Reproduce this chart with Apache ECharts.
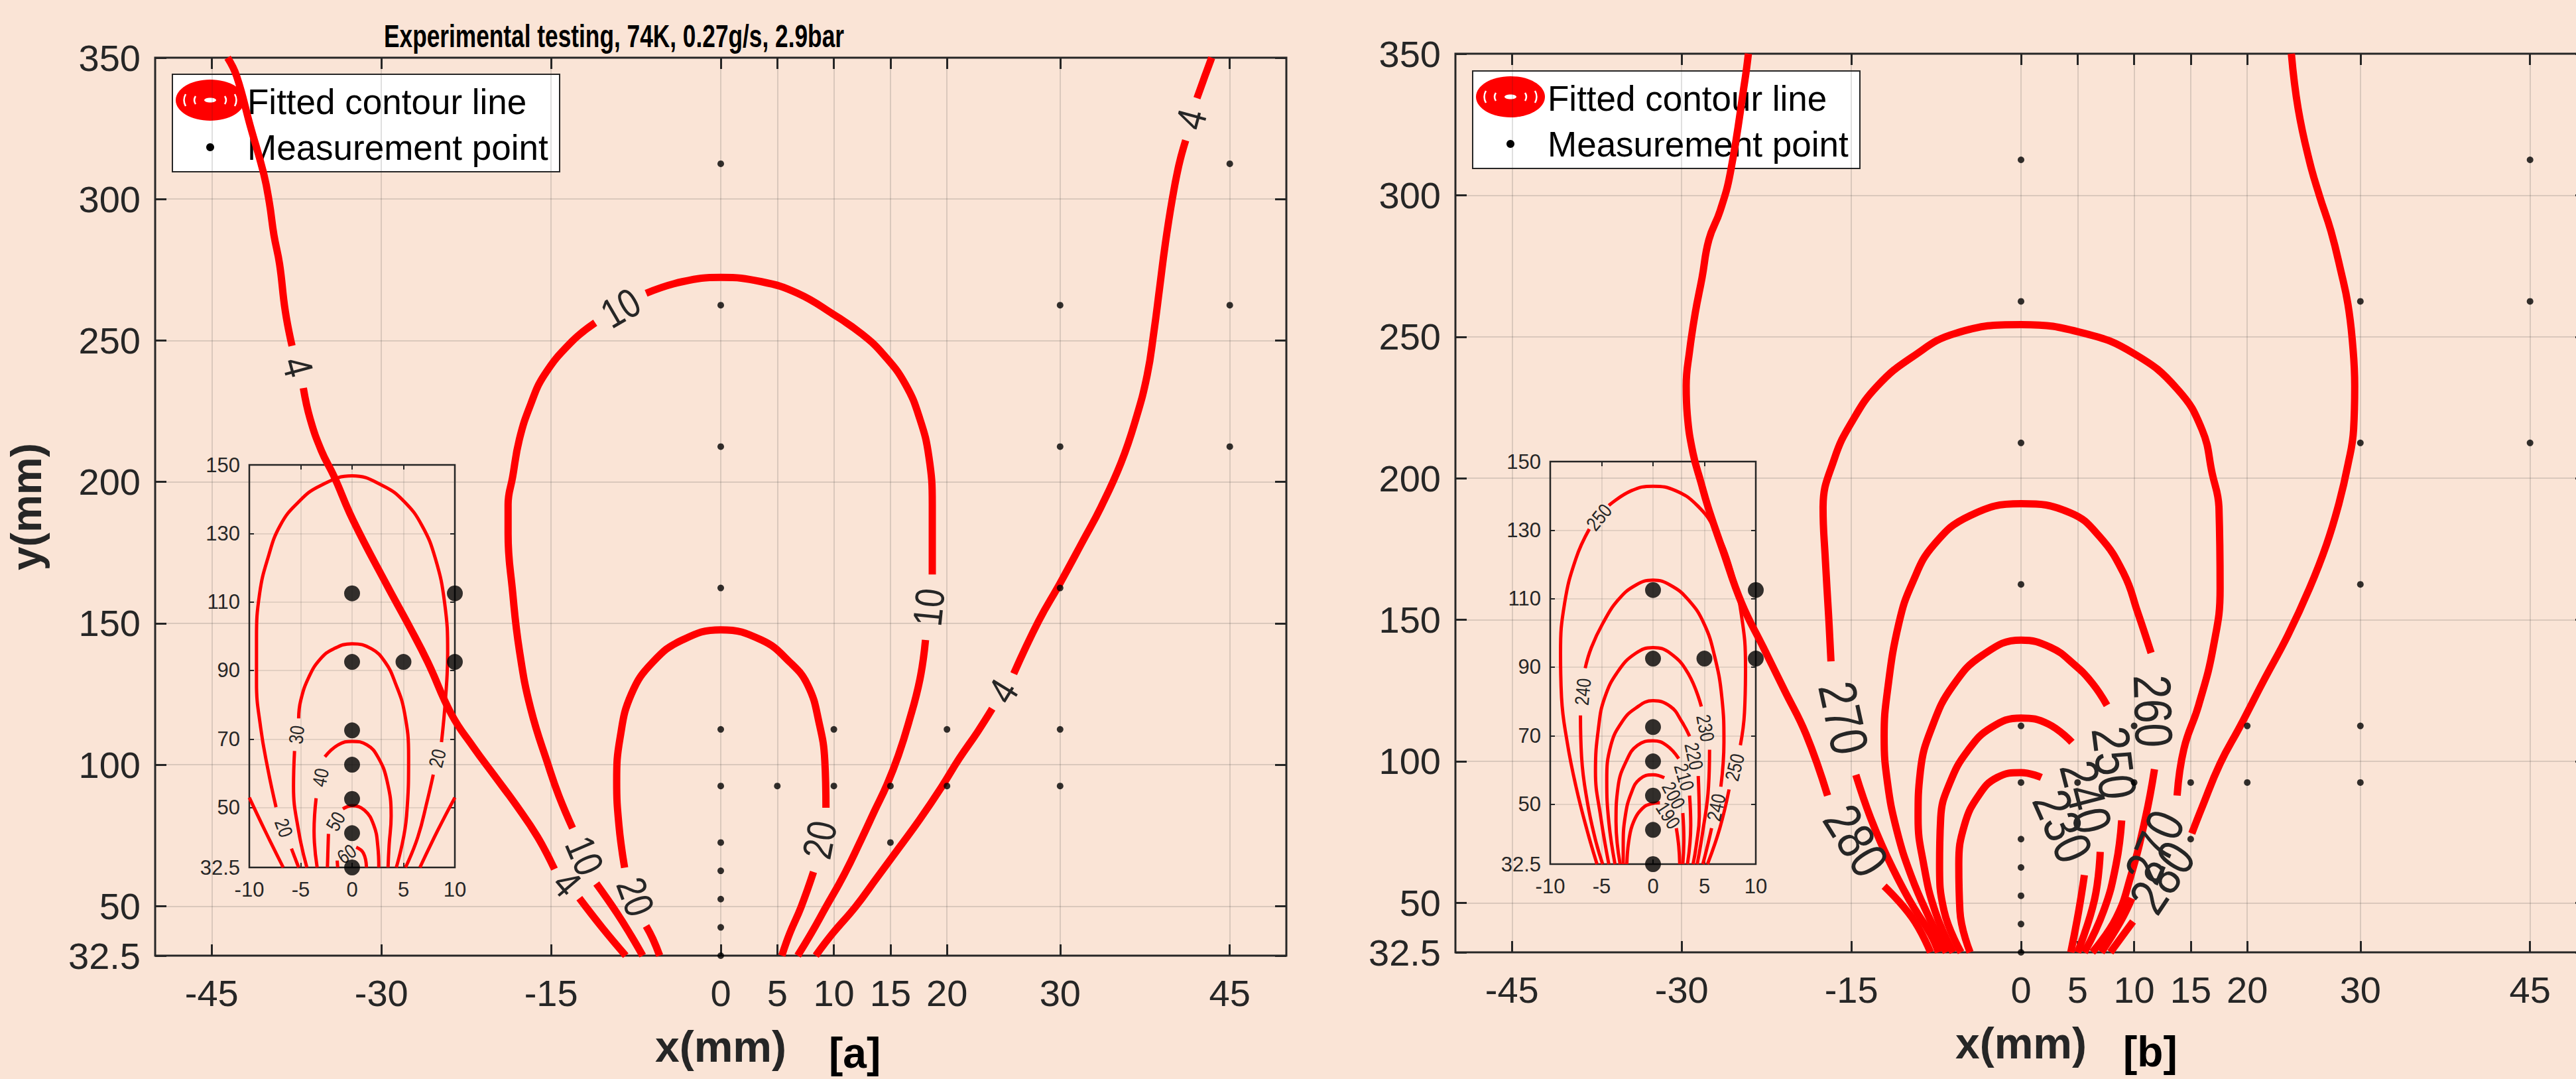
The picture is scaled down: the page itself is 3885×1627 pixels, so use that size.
<!DOCTYPE html>
<html><head><meta charset="utf-8">
<script src="https://cdn.jsdelivr.net/npm/echarts@6/dist/echarts.min.js"></script>
<style>html,body{margin:0;padding:0;background:#FAE4D6;}#c{width:3885px;height:1627px;}</style>
</head><body><div id="c"></div>
<script>
// ---------- tick labels ----------
const xTicks = [-45, -30, -15, 0, 5, 10, 15, 20, 30, 45];
const yTicks = [32.5, 50, 100, 150, 200, 250, 300, 350];
const insetXTicks = [-10, -5, 0, 5, 10];
const insetYTicks = [32.5, 50, 70, 90, 110, 130, 150];

// ---------- measurement points (same grid in both panels) ----------
const measX = [0,0,0,0,0,0,0,0,0,0,0, 5, 10,10, 15,15, 20,20, 30,30,30,30,30, 45,45,45];
const measY = [312.5,262.5,212.5,162.5,112.5,92.5,72.5,62.5,52.5,42.5,32.5, 92.5, 112.5,92.5, 92.5,72.5, 112.5,92.5, 262.5,212.5,162.5,112.5,92.5, 312.5,262.5,212.5];

// ---------- panel [a] main contours (null = gap holding the level label) ----------
const levelsA = [4, 10, 20];
const a_c4_left = [[-43.6,350],[-42.8,343.5],[-41.6,326],[-40.4,308.9],[-39.9,298.6],[-39.5,287.3],[-39.0,277.0],[-38.5,260.5],[-37.9,248.1],
  null,
  [-36.9,233.2],[-36.3,222.3],[-35.3,211.0],[-34.2,202.1],[-32.5,186.4],[-29.5,163.4],[-27.5,148.7],[-25.9,136.3],[-23.8,117.8],[-21.9,106.4],[-20.0,96.1],[-18.1,85.8],[-16.2,74.5],[-14.7,63.1],
  null,
  [-12.5,52.8],[-10.5,42.5],[-8.4,32.5]];
const a_c4_right = [[43.4,350],[42.8,343.5],[42.1,335.7],
  null,
  [41.1,320.8],[40.5,312.0],[39.9,299.6],[39.3,284.2],[38.8,268.7],[38.3,253.3],[37.7,237.8],[36.7,222.3],[35.4,206.9],[33.6,191.0],[32.0,179.0],[30.0,164.2],[28.1,150.8],[25.9,132.2],
  null,
  [24.0,119.8],[22.7,111.6],[21.1,102.3],[19.5,92.0],[17.6,80.7],[15.7,70.3],[13.8,60.0],[11.9,49.7],[9.9,40.4],[8.4,32.5]];
const a_c10 = [[-6.9,32.5],[-7.9,39.4],[-9.2,47.7],[-11.0,58.0],
  null,
  [-13.1,77.6],[-14.3,88.9],[-15.2,99.2],[-16.8,119.8],[-17.8,140.4],[-18.4,161.1],[-18.8,181.7],[-18.8,192.0],[-18.4,201.7],[-17.8,215.1],[-16.8,227.5],[-15.6,237.8],[-13.3,249.1],[-11.1,256.3],
  null,
  [-6.6,266.7],[-3.4,270.8],[0,272.3],[3.6,270.8],[6.8,266.7],[9.9,259.4],[12.5,252.2],[14.4,245.0],[16.3,234.7],[17.6,222.3],[18.4,208.9],[18.7,192.0],[18.7,167.3],
  null,
  [18.1,144.1],[17.6,130.1],[16.6,114.7],[15.7,103.3],[14.7,93.0],[13.6,83.7],[12.4,73.4],[10.9,61.1],[9.3,49.7],[8.0,40.4],[6.8,32.5]];
const a_c20 = [[-5.4,32.5],[-6.0,38.4],[-6.6,43.0],
  null,
  [-8.5,63.6],[-9.0,78.6],[-9.2,94.1],[-8.9,109.5],[-7.9,125.0],[-6.0,136.3],[-3.4,144.1],[0,147.7],[3.6,144.1],[6.1,136.3],[7.7,128.1],[8.7,114.7],[9.2,101.3],[9.3,84.8],
  null,
  [8.2,62.1],[7.1,49.7],[6.1,40.4],[5.4,32.5]];

// ---------- panel [a] inset contours ----------
const levelsAi = [10, 20, 30, 40, 50, 60];
const ai_c10_left = [[-10,52.9],[-8.45,43.1],[-6.7,32.5]];
const ai_c10_right = [[10,52.9],[8.3,43.1],[6.6,32.5]];
const ai_c20 = [[-5.2,32.5],[-5.9,38.0],
  null,
  [-7.4,50.1],[-8.2,61.3],[-8.9,73.4],[-9.3,86.4],[-9.3,99.4],[-9.0,112.4],[-8.2,122.7],[-7.0,132.3],[-5.2,139.2],[-3.1,143.9],[0,146.8],[3.0,143.9],[5.1,139.2],[6.8,132.3],[8.1,122.7],[9.0,109.8],[9.3,95.1],[9.1,82.1],[8.7,69.1],
  null,
  [7.9,59.6],[7.3,51.8],[6.4,41.4],[5.2,32.5]];
const ai_c30 = [[-4.4,32.5],[-5.2,43.1],[-5.7,56.1],[-5.6,66.5],
  null,
  [-5.2,76.0],[-5.0,81.2],[-4.2,88.1],[-3.1,93.3],[-1.8,96.3],[0,97.8],[1.9,96.3],[3.2,92.5],[4.2,86.4],[5.1,77.7],[5.5,64.8],[5.3,47.5],[4.3,32.5]];
const ai_c40 = [[-3.4,32.5],[-3.7,43.1],[-3.5,52.7],
  null,
  [-2.65,64.8],[-1.35,68.3],[0,69.3],[1.44,68.3],[2.5,64.8],[3.4,57.8],[3.8,47.5],[3.6,38.8],[3.5,32.5]];
const ai_c50 = [[-2.4,32.5],[-2.3,42.3],
  null,
  [-0.9,49.6],[0,50.5],[1.2,49.2],[2.1,44.9],[2.5,38.8],[2.6,32.5]];
const ai_c60 = [[-1.4,32.5],[-1.45,34.5],
  null,
  [0.4,38.4],[1.1,36.7],[1.4,32.5]];

// ---------- panel [b] main contours ----------
const levelsB = [230, 240, 250, 260, 270, 280];
const b_c280_left = [[-24.1,350],[-24.4,340.9],[-25.7,307.9],[-26.6,294.5],[-27.6,284.2],[-28.2,270.8],[-28.8,258.4],[-29.3,245.0],[-29.6,232.6],[-29.5,222.3],[-29.0,208.9],[-28.3,198.6],[-27.6,189.0],[-26.4,175.0],[-24.7,155.9],[-22.8,140.4],[-20.9,125.0],[-19.0,109.5],[-17.1,87.9],
  null,
  [-12.1,55.9],[-9.6,44.6],[-8.0,32.5]];
const b_c280_right = [[23.9,350],[24.5,330.6],[25.5,312.0],[26.4,299.6],[27.4,287.3],[28.3,272.8],[28.9,261.5],[29.3,248.1],[29.5,232.6],[29.4,217.2],[28.9,204.8],[28.1,191.0],[27.0,176.5],[25.5,161.1],[23.6,144.6],[21.4,128.1],[19.4,112.6],[17.6,99.2],[16.0,83.7],[15.1,74.5],
  null,
  [9.9,43.4],[7.9,32.5]];
const b_c270 = [[-7.3,32.5],[-8.0,38.9],[-9.9,51.2],[-11.8,66.0],[-13.3,80.0],[-14.6,95.2],
  null,
  [-16.8,135.3],[-17.0,150.8],[-17.3,171.4],[-17.5,189.5],[-16.5,206.9],[-14.9,220.3],[-12.7,232.6],[-9.6,242.9],[-5.8,251.2],[0,254.3],[5.6,251.2],[10.0,244.0],[13.8,231.6],[16.0,217.2],[16.9,201.7],[17.5,189.5],[17.6,161.1],[17.0,140.4],[15.7,119.8],[14.4,104.4],[13.8,87.9],
  null,
  [9.8,51.6],[8.8,43.4],[7.1,32.5]];
const b_c260 = [[-6.6,32.5],[-8.1,44.6],[-9.7,59.4],[-11.0,75.9],[-11.8,92.3],[-12.1,108.7],[-11.8,125.1],[-10.8,148.7],[-9.6,163.1],[-7.7,176.5],[-4.5,186.8],[0,191.0],[4.3,187.9],[6.9,179.6],[9.1,166.2],[10.3,152.8],[11.5,138.3],
  null,
  [11.8,97.2],[11.0,80.0],[9.7,59.4],[8.4,44.6],[6.3,32.5]];
const b_c250 = [[-6.0,32.5],[-7.6,47.1],[-8.6,63.5],[-9.1,80.0],[-8.9,96.4],[-7.8,112.8],[-6.0,126.8],[-3.4,137.5],[0,142.8],[2.6,140.3],[4.7,134.2],[6.3,127.6],[7.6,119.8],
  null,
  [8.9,79.1],[8.4,63.5],[7.3,47.1],[5.6,32.5]];
const b_c240 = [[-5.3,32.5],[-6.8,47.1],[-7.2,63.5],[-7.1,80.0],[-6.3,92.3],[-4.7,103.8],[-2.6,112.0],[0,115.3],[2.4,113.2],[4.5,106.7],
  null,
  [7.0,68.0],[6.5,51.2],[5.0,32.5]];
const b_c230 = [[-4.5,32.5],[-5.4,47.1],[-5.5,63.5],[-5.0,77.5],[-3.7,88.2],[-2.1,94.3],[0,96.0],[1.8,94.3],
  null,
  [5.6,59.8],[5.1,47.1],[4.4,32.5]];

// ---------- panel [b] inset contours ----------
const levelsBi = [190, 200, 210, 220, 230, 240, 250];
const bi_c250 = [[-5.45,32.5],[-6.4,42.2],[-7.5,55.2],[-8.35,68.1],[-8.9,81.1],[-9.0,94.0],[-8.6,108.7],[-7.5,121.7],[-6.2,130.3],
  null,
  [-4.3,137.2],[-2.1,141.5],[0,142.8],[2.2,141.5],[4.3,137.2],[6.0,130.3],[7.5,119.9],[8.6,105.2],[9.0,89.7],[8.9,76.7],[8.5,67.2],
  null,
  [7.4,54.3],[6.5,43.0],[5.3,32.5]];
const bi_c240 = [[-4.9,32.5],[-5.6,39.6],[-6.4,50.8],[-6.95,63.8],[-7.06,75.9],
  null,
  [-6.6,89.7],[-6.0,95.7],[-4.9,102.7],[-3.4,109.6],[-1.7,113.9],[0,115.4],[1.7,113.9],[3.45,109.6],[4.96,102.7],[6.0,93.1],[6.7,81.1],[6.9,68.1],[6.6,55.1],
  null,
  [5.7,43.0],[5.3,37.8],[4.85,32.5]];
const bi_c230 = [[-4.3,32.5],[-5.1,46.5],[-5.6,59.5],[-5.3,72.4],[-4.7,81.1],[-3.4,88.8],[-1.7,94.0],[0,95.7],[1.7,94.0],[3.45,88.0],[4.7,78.5],
  null,
  [5.5,65.9],[5.4,55.1],[4.85,42.2],[4.3,32.5]];
const bi_c220 = [[-3.7,32.5],[-4.3,44.8],[-4.5,56.9],[-4.1,67.2],[-3.0,74.1],[-1.7,78.0],[0,80.2],[1.7,78.5],[2.8,74.1],[3.56,69.8],
  null,
  [4.4,58.2],[4.5,46.5],[4.2,37.8],[3.9,32.5]];
const bi_c210 = [[-3.2,32.5],[-3.6,44.8],[-3.4,55.1],[-2.55,62.9],[-1.5,67.2],[0,68.5],[1.3,67.2],[2.5,63.3],
  null,
  [3.56,52.5],[3.67,43.9],[3.35,32.5]];
const bi_c200 = [[-2.9,32.5],[-2.9,37.8],[-2.7,46.5],[-2.1,53.4],[-1.3,57.3],[0,58.6],[1.1,57.7],
  null,
  [2.9,47.4],[3.0,39.6],[2.9,32.5]];
const bi_c190 = [[-2.55,32.5],[-2.34,39.6],[-1.9,44.8],[-1.05,48.7],[-0.2,50.1],[0.67,50.4],
  null,
  [2.27,43.0],[2.5,37.8],[2.6,32.5]];

// ---------- contour tables (line, level, labelled) ----------
const contoursA = [[a_c4_left, levelsA[0]], [a_c4_right, levelsA[0]], [a_c10, levelsA[1]], [a_c20, levelsA[2]]];
const contoursAi = [[ai_c10_left, levelsAi[0], false], [ai_c10_right, levelsAi[0], false], [ai_c20, levelsAi[1]], [ai_c30, levelsAi[2]], [ai_c40, levelsAi[3]], [ai_c50, levelsAi[4]], [ai_c60, levelsAi[5]]];
const contoursB = [[b_c280_left, levelsB[5]], [b_c280_right, levelsB[5]], [b_c270, levelsB[4]], [b_c260, levelsB[3]], [b_c250, levelsB[2]], [b_c240, levelsB[1]], [b_c230, levelsB[0]]];
const contoursBi = [[bi_c250, levelsBi[6]], [bi_c240, levelsBi[5]], [bi_c230, levelsBi[4]], [bi_c220, levelsBi[3]], [bi_c210, levelsBi[2]], [bi_c200, levelsBi[1]], [bi_c190, levelsBi[0]]];

// ---------- layout / style ----------
const FONT = '"Liberation Sans", Arial, Helvetica, sans-serif';
const INK = '#262626';
const RED = '#FF0000';
const GRIDC = 'rgba(38,38,38,0.15)';
const NARROW_SCALE = 0.82;
const G_LM = {left: 234, top: 87, width: 1706, height: 1354};
const G_RM = {left: 2195, top: 81, width: 1706, height: 1355};
const G_LI = {left: 376, top: 701, width: 310, height: 607};
const G_RI = {left: 2338, top: 696, width: 310, height: 607};

const chart = echarts.init(document.getElementById('c'), null, {renderer: 'svg'});

function gridOf(g, bw) {
  return Object.assign({show: true, borderColor: INK, borderWidth: bw, backgroundColor: 'transparent', containLabel: false, outerBoundsMode: 'none'}, g);
}

function xAx(gi, pos, main, withLabel, nameText) {
  const ticks = main ? xTicks : insetXTicks;
  const ax = {
    gridIndex: gi, type: 'value', position: pos,
    min: main ? -50 : -10, max: main ? 50 : 10,
    axisLine: {show: false, onZero: false},
    axisTick: {show: true, inside: true, length: main ? 17 : 7, lineStyle: {color: INK, width: main ? 3 : 2}, customValues: ticks},
    axisLabel: {show: withLabel, customValues: ticks, margin: main ? 28 : 18, fontSize: main ? 56 : 31, color: INK, fontFamily: FONT, showMinLabel: true, showMaxLabel: true, hideOverlap: false},
    splitLine: {show: withLabel, lineStyle: {color: GRIDC, width: main ? 2 : 1.5}},
    nameMoveOverlap: false
  };
  if (!main) ax.interval = 5;
  if (nameText) {
    ax.name = nameText; ax.nameLocation = 'middle'; ax.nameGap = 104;
    ax.nameTextStyle = {fontSize: 66, fontWeight: 'bold', color: INK, fontFamily: FONT};
  }
  return ax;
}
function yAx(gi, pos, main, withLabel, nameText) {
  const ticks = main ? yTicks : insetYTicks;
  const ax = {
    gridIndex: gi, type: 'value', position: pos,
    min: 32.5, max: main ? 350 : 150,
    axisLine: {show: false, onZero: false},
    axisTick: {show: true, inside: true, length: main ? 17 : 7, lineStyle: {color: INK, width: main ? 3 : 2}, customValues: ticks},
    axisLabel: {show: withLabel, customValues: ticks, margin: main ? 22 : 14, fontSize: main ? 56 : 31, color: INK, fontFamily: FONT, showMinLabel: true, showMaxLabel: true, hideOverlap: false},
    splitLine: {show: withLabel, lineStyle: {color: GRIDC, width: main ? 2 : 1.5}},
    nameMoveOverlap: false
  };
  if (nameText) {
    ax.name = nameText; ax.nameLocation = 'middle'; ax.nameGap = 162; ax.nameRotate = 90;
    ax.nameTextStyle = {fontSize: 64, fontWeight: 'bold', color: INK, fontFamily: FONT};
  }
  return ax;
}

const series = [];
function addContours(list, xi, yi, lw, fs, kx, ky, z) {
  const labels = [];
  const pushSeg = seg => {
    if (seg.length < 2) return;
    series.push({type: 'line', name: 'Fitted contour line', xAxisIndex: xi, yAxisIndex: yi, data: seg,
      smooth: 0.45, symbol: 'none', silent: true, z: z, animation: false,
      lineStyle: {color: RED, width: lw, cap: 'butt', join: 'round'}});
  };
  list.forEach(([pts, level, labelled]) => {
    let seg = [];
    pts.forEach((p, i) => {
      if (p === null) {
        pushSeg(seg); seg = [];
        if (labelled !== false) {
          const a = pts[i - 1], b = pts[i + 1];
          let ang = Math.atan2((b[1] - a[1]) * ky, (b[0] - a[0]) * kx) * 180 / Math.PI;
          if (ang > 90) ang -= 180;
          if (ang < -90) ang += 180;
          labels.push({name: String(level), value: [(a[0] + b[0]) / 2, (a[1] + b[1]) / 2, ang]});
        }
      } else seg.push(p);
    });
    pushSeg(seg);
  });
  // contour level labels: condensed text placed in the gaps, rotated along the line
  series.push({type: 'custom', xAxisIndex: xi, yAxisIndex: yi, data: labels, silent: true, z: z + 1, animation: false, clip: false,
    encode: {x: 0, y: 1},
    renderItem: (params, api) => {
      const p = api.coord([api.value(0), api.value(1)]);
      return {type: 'text', x: p[0], y: p[1], rotation: api.value(2) * Math.PI / 180, scaleX: NARROW_SCALE,
        style: {text: labels[params.dataIndex].name, fill: INK, font: fs + 'px ' + FONT,
          textAlign: 'center', textVerticalAlign: 'middle', align: 'center', verticalAlign: 'middle'}};
    }});
}

const kxM = G_LM.width / 100, kyM = G_LM.height / 317.5;
const kxI = G_LI.width / 20, kyI = G_LI.height / 117.5;
addContours(contoursA, 0, 0, 11, 62, kxM, kyM, 3);
addContours(contoursB, 2, 2, 11, 80, kxM, kyM, 3);
addContours(contoursAi, 4, 4, 5, 30, kxI, kyI, 5);
addContours(contoursBi, 6, 6, 5, 30, kxI, kyI, 5);

const measPts = measX.map((x, i) => [x, measY[i]]);
const insetPts = measPts.filter(p => Math.abs(p[0]) <= 10 && p[1] <= 150);
[[0, 0], [2, 2]].forEach(([xi, yi]) => series.push({type: 'scatter', name: 'Measurement point', xAxisIndex: xi, yAxisIndex: yi, data: measPts,
  symbol: 'circle', symbolSize: 10, itemStyle: {color: '#000'}, silent: true, z: 7, animation: false}));
[[4, 4], [6, 6]].forEach(([xi, yi]) => series.push({type: 'scatter', name: 'Measurement point', xAxisIndex: xi, yAxisIndex: yi, data: insetPts,
  symbol: 'circle', symbolSize: 24, itemStyle: {color: '#000'}, silent: true, z: 7, clip: false, animation: false}));

// ---------- legend boxes ----------
function legendBox(dx, dy) {
  const cx = 317, cy = 151;
  const arc = (x, h, bulge) => ({type: 'bezierCurve', shape: {x1: x, y1: cy - h, x2: x, y2: cy + h, cpx1: x + bulge, cpy1: cy},
    style: {stroke: '#fff', lineWidth: 2.5, fill: null}});
  return {type: 'group', x: dx, y: dy, z: 100, children: [
    {type: 'rect', shape: {x: 260, y: 112, width: 584, height: 147}, style: {fill: '#fff', stroke: INK, lineWidth: 2}},
    {type: 'ellipse', shape: {cx: cx, cy: cy, rx: 52, ry: 31}, style: {fill: RED}},
    arc(cx - 37, 9, -5), arc(cx - 22, 6, -4), arc(cx + 22, 6, 4), arc(cx + 37, 9, 5),
    {type: 'ellipse', shape: {cx: cx, cy: cy, rx: 9, ry: 3.5}, style: {fill: '#fff'}},
    {type: 'circle', shape: {cx: cx, cy: 222, r: 6}, style: {fill: '#000'}},
    {type: 'text', x: 373, y: 153, style: {text: 'Fitted contour line', fill: '#000', font: '53px ' + FONT, textVerticalAlign: 'middle'}},
    {type: 'text', x: 373, y: 222, style: {text: 'Measurement point', fill: '#000', font: '53px ' + FONT, textVerticalAlign: 'middle'}}
  ]};
}

const option = {
  backgroundColor: '#FAE4D6',
  animation: false,
  textStyle: {fontFamily: FONT},
  grid: [gridOf(G_LM, 3), gridOf(G_RM, 3), gridOf(G_LI, 2.5), gridOf(G_RI, 2.5)],
  xAxis: [
    xAx(0, 'bottom', true, true, 'x(mm)'), xAx(0, 'top', true, false),
    xAx(1, 'bottom', true, true, 'x(mm)'), xAx(1, 'top', true, false),
    xAx(2, 'bottom', false, true), xAx(2, 'top', false, false),
    xAx(3, 'bottom', false, true), xAx(3, 'top', false, false)
  ],
  yAxis: [
    yAx(0, 'left', true, true, 'y(mm)'), yAx(0, 'right', true, false),
    yAx(1, 'left', true, true), yAx(1, 'right', true, false),
    yAx(2, 'left', false, true), yAx(2, 'right', false, false),
    yAx(3, 'left', false, true), yAx(3, 'right', false, false)
  ],
  graphic: [
    {type: 'text', x: 926, y: 54, z: 100, scaleX: 0.72, style: {text: 'Experimental testing, 74K, 0.27g/s, 2.9bar', fill: '#000', font: 'bold 49px ' + FONT, textAlign: 'center', textVerticalAlign: 'middle'}},
    {type: 'text', x: 1250, y: 1588, z: 100, style: {text: '[a]', fill: '#000', font: 'bold 64px ' + FONT, textVerticalAlign: 'middle'}},
    {type: 'text', x: 3202, y: 1586, z: 100, style: {text: '[b]', fill: '#000', font: 'bold 64px ' + FONT, textVerticalAlign: 'middle'}},
    legendBox(0, 0),
    legendBox(1961, -5)
  ],
  series: series
};
chart.setOption(option);
</script></body></html>
